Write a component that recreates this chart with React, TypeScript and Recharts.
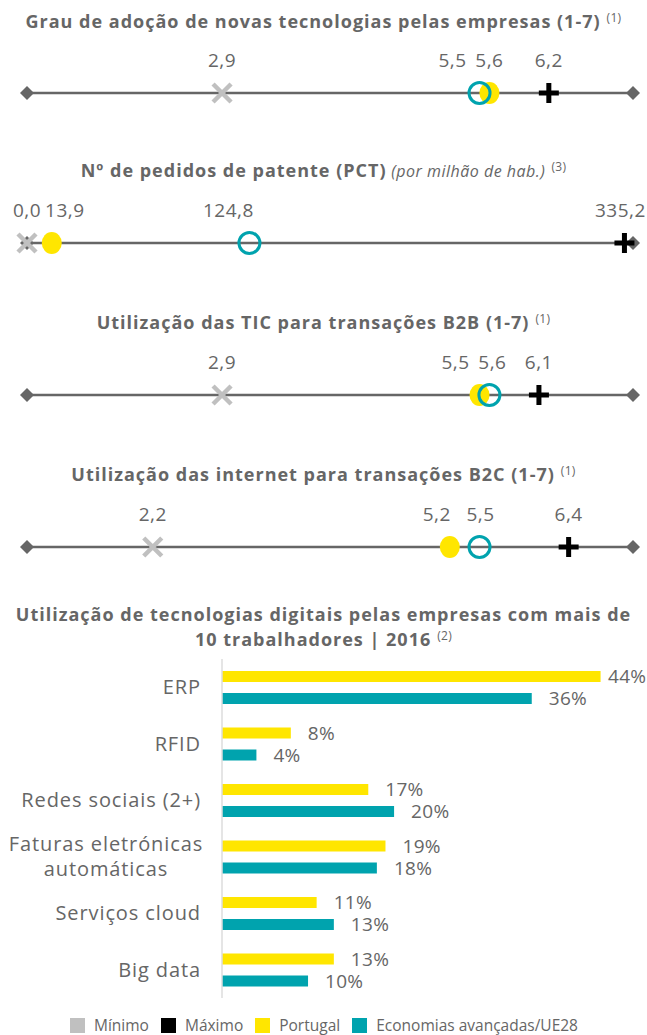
import React from "react";
import { ScatterChart, Scatter, XAxis, YAxis, BarChart, Bar, LabelList } from "recharts";

const FONT = '"Open Sans", sans-serif';
const TEXT = "#666666";
const YELLOW = "#FFE600";
const TEAL = "#00A3AE";
const MIN_GREY = "#C0C0C0";

// strip charts (order: Grau de adoção, PCT, B2B, B2C)
const stripTitles = [
  "Grau de adoção de novas tecnologias pelas empresas (1-7)",
  "Nº de pedidos de patente (PCT)",
  "Utilização das TIC para transações B2B (1-7)",
  "Utilização das internet para transações B2C (1-7)",
];
const stripSubtitles = ["", "(por milhão de hab.)", "", ""];
const stripNotes = ["(1)", "(3)", "(1)", "(1)"];
const minValues = [2.9, 0.0, 2.9, 2.2];
const maxValues = [6.2, 335.2, 6.1, 6.4];
const portugalValues = [5.6, 13.9, 5.5, 5.2];
const economiasValues = [5.5, 124.8, 5.6, 5.5];
const stripDomains: [number, number][] = [
  [0.93, 7.05],
  [0, 340],
  [0.93, 7.05],
  [0.93, 7.05],
];

// bar chart
const barTitle = ["Utilização de tecnologias digitais pelas empresas com mais de", "10 trabalhadores | 2016"];
const barCategories = [
  "ERP",
  "RFID",
  "Redes sociais (2+)",
  "Faturas eletrónicas\nautomáticas",
  "Serviços cloud",
  "Big data",
];
const portugalShares = [44, 8, 17, 19, 11, 13];
const economiasShares = [36, 4, 20, 18, 13, 10];

const legendLabels = ["Mínimo", "Máximo", "Portugal", "Economias avançadas/UE28"];
const legendColors = [MIN_GREY, "#000000", YELLOW, TEAL];

// layout
const stripLineY = [92.5, 243, 395, 546.5];
const stripTitleY = [21, 170, 322, 474];
const labelDx = {
  min: [0, 0, 0, 0],
  max: [0, -4, 0, 0],
  pt: [0, 13, -24, -13],
  ea: [-27, -21, 3, 1],
};

const fmt = (v: number) => v.toFixed(1).replace(".", ",");

function valueText(cx: number, cy: number, v: number, dx: number) {
  return (
    <text x={cx + dx} y={cy - 26} textAnchor="middle" fill={TEXT} fontSize={19} letterSpacing={0.5} fontFamily={FONT}>
      {fmt(v)}
    </text>
  );
}

const diamond = (props: any) => {
  const { cx, cy } = props;
  return <path d={`M${cx - 7},${cy} L${cx},${cy - 7} L${cx + 7},${cy} L${cx},${cy + 7} Z`} fill="#666666" />;
};

function Title({ y, text, sub, note }: { y: number; text: string; sub?: string; note: string }) {
  return (
    <div
      style={{
        position: "absolute",
        left: 0,
        top: y - 11,
        width: 647,
        textAlign: "center",
        fontFamily: FONT,
        fontSize: 18,
        lineHeight: "22px",
        fontWeight: 700,
        color: TEXT,
        letterSpacing: 1,
        whiteSpace: "nowrap",
      }}
    >
      {text}
      {sub ? <span style={{ fontWeight: 400, fontStyle: "italic", fontSize: 16, letterSpacing: 0.5 }}> {sub}</span> : null}
      {note ? (
        <span style={{ fontWeight: 400, fontSize: 12, position: "relative", top: -6, marginLeft: 6, letterSpacing: 0.3 }}>{note}</span>
      ) : null}
    </div>
  );
}

function Strip({ i }: { i: number }) {
  const dom = stripDomains[i];
  const axisEnds = dom.map((x) => ({ x, y: 0 }));

  const minShape = (p: any) => (
    <g>
      <path d={`M${p.cx - 9},${p.cy - 9} L${p.cx + 9},${p.cy + 9} M${p.cx + 9},${p.cy - 9} L${p.cx - 9},${p.cy + 9}`} stroke={MIN_GREY} strokeWidth={4.5} />
      {valueText(p.cx, p.cy, p.payload.x, labelDx.min[i])}
    </g>
  );
  const maxShape = (p: any) => (
    <g>
      <path d={`M${p.cx - 10},${p.cy} L${p.cx + 10},${p.cy} M${p.cx},${p.cy - 10} L${p.cx},${p.cy + 10}`} stroke="#000000" strokeWidth={5} />
      {valueText(p.cx, p.cy, p.payload.x, labelDx.max[i])}
    </g>
  );
  const ptShape = (p: any) => (
    <g>
      <ellipse cx={p.cx} cy={p.cy} rx={10} ry={11} fill={YELLOW} />
      {valueText(p.cx, p.cy, p.payload.x, labelDx.pt[i])}
    </g>
  );
  const eaShape = (p: any) => (
    <g>
      <circle cx={p.cx} cy={p.cy} r={10.5} fill="none" stroke={TEAL} strokeWidth={3} />
      {valueText(p.cx, p.cy, p.payload.x, labelDx.ea[i])}
    </g>
  );

  return (
    <div style={{ position: "absolute", left: 0, top: stripLineY[i] - 50 }}>
      <ScatterChart width={647} height={70} margin={{ top: 30, right: 14, bottom: 0, left: 27 }}>
        <XAxis type="number" dataKey="x" domain={dom} hide />
        <YAxis type="number" dataKey="y" domain={[-1, 1]} hide width={0} />
        <Scatter data={axisEnds} line={{ stroke: "#666666", strokeWidth: 2.5 }} shape={diamond} isAnimationActive={false} />
        <Scatter data={[{ x: minValues[i], y: 0 }]} shape={minShape} isAnimationActive={false} />
        <Scatter data={[{ x: portugalValues[i], y: 0 }]} shape={ptShape} isAnimationActive={false} />
        <Scatter data={[{ x: economiasValues[i], y: 0 }]} shape={eaShape} isAnimationActive={false} />
        <Scatter data={[{ x: maxValues[i], y: 0 }]} shape={maxShape} isAnimationActive={false} />
      </ScatterChart>
    </div>
  );
}

const CategoryTick = (props: any) => {
  const { x, y, payload } = props;
  const lines = String(payload.value).split("\n");
  if (lines.length === 1) {
    return (
      <text x={x} y={y} dy="0.35em" textAnchor="end" fill={TEXT} fontSize={20} letterSpacing={0.9} fontFamily={FONT}>
        {lines[0]}
      </text>
    );
  }
  return (
    <text x={x - 95} y={y} textAnchor="middle" fill={TEXT} fontSize={20} letterSpacing={0.9} fontFamily={FONT}>
      {lines.map((l, k) => (
        <tspan key={k} x={x - 95} dy={k === 0 ? "-0.3em" : "1.25em"}>
          {l}
        </tspan>
      ))}
    </text>
  );
};

const barLabel = (props: any) => {
  const { x, y, width, height, value } = props;
  const lx = Math.min(x + width + 17, 608);
  return (
    <text x={lx} y={y + height / 2} dy="0.35em" fill={TEXT} fontSize={19} letterSpacing={0.3} fontFamily={FONT}>
      {value}%
    </text>
  );
};

export default function App() {
  const barData = barCategories.map((name, k) => ({ name, pt: portugalShares[k], ea: economiasShares[k] }));

  return (
    <div style={{ position: "absolute", left: 0, top: 0, width: 647, height: 1035, background: "#fff", overflow: "hidden" }}>
      {stripTitles.map((t, i) => (
        <Title key={t} y={stripTitleY[i]} text={t} sub={stripSubtitles[i]} note={stripNotes[i]} />
      ))}
      {stripTitles.map((t, i) => (
        <Strip key={t} i={i} />
      ))}

      <Title y={614} text={barTitle[0]} note="" />
      <Title y={639} text={barTitle[1]} note="(2)" />

      <div style={{ position: "absolute", left: 0, top: 650 }}>
        <BarChart
          layout="vertical"
          width={647}
          height={350}
          data={barData}
          margin={{ top: 9, right: 12, bottom: 2, left: 0 }}
          barSize={11}
          barGap={11}
        >
          <XAxis type="number" domain={[0, 48]} hide />
          <YAxis
            type="category"
            dataKey="name"
            width={222}
            axisLine={{ stroke: "#DDDDDD", strokeWidth: 1.5 }}
            tickLine={false}
            tickSize={0}
            tickMargin={21}
            interval={0}
            tick={<CategoryTick />}
          />
          <Bar dataKey="pt" fill={YELLOW} isAnimationActive={false}>
            <LabelList dataKey="pt" content={barLabel} />
          </Bar>
          <Bar dataKey="ea" fill={TEAL} isAnimationActive={false}>
            <LabelList dataKey="ea" content={barLabel} />
          </Bar>
        </BarChart>
      </div>

      <div
        style={{
          position: "absolute",
          left: 70,
          top: 1018,
          display: "flex",
          alignItems: "center",
          fontFamily: FONT,
          fontSize: 15.5,
          lineHeight: "15px",
          color: TEXT,
          whiteSpace: "nowrap",
        }}
      >
        {legendLabels.map((l, k) => (
          <div key={l} style={{ display: "flex", alignItems: "center", marginRight: 12 }}>
            <span style={{ display: "inline-block", width: 15, height: 15, background: legendColors[k], marginRight: 9 }} />
            <span>{l}</span>
          </div>
        ))}
      </div>
    </div>
  );
}
